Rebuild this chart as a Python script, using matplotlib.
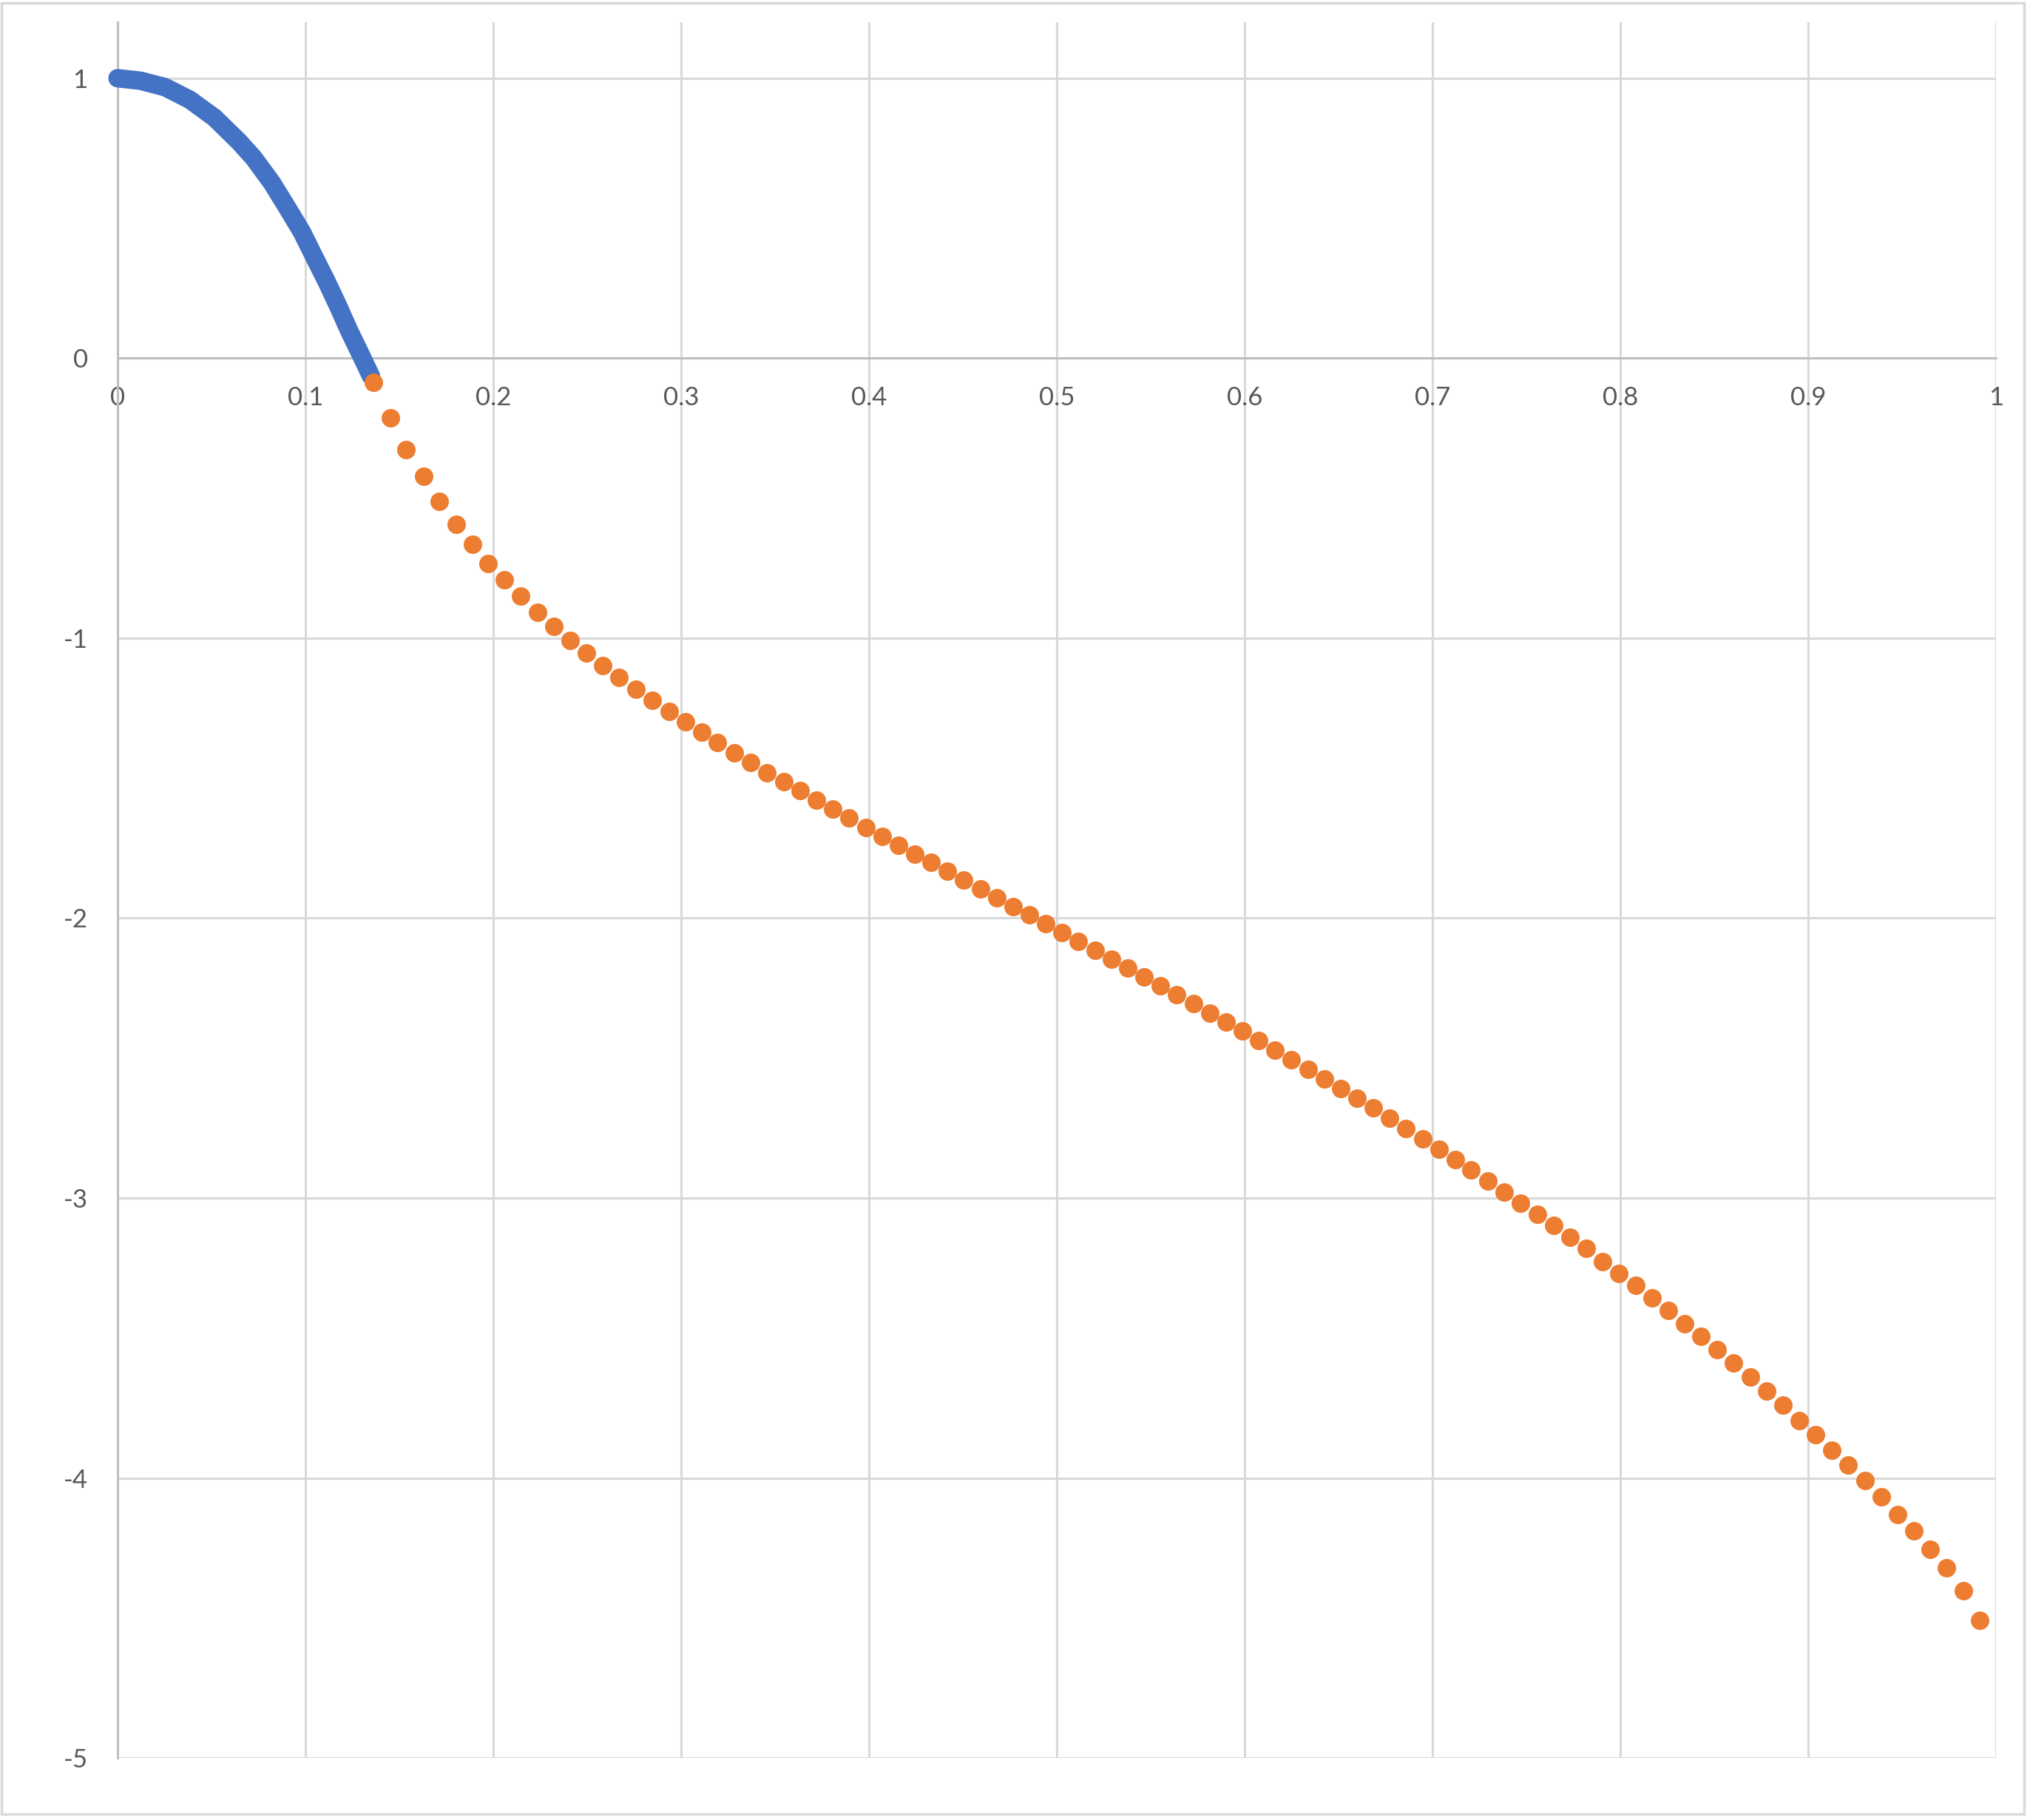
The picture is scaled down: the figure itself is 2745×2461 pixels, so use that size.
import matplotlib.pyplot as plt
from matplotlib.patches import Rectangle

plt.rcParams['font.family'] = ['Lato', 'DejaVu Sans']
plt.rcParams['axes.unicode_minus'] = False

# blue series (dense, reads as a thick curve)
blue_x = [0.0, 0.0122, 0.0253, 0.0385, 0.0516, 0.0647, 0.0726, 0.0822,
          0.0903, 0.0982, 0.1047, 0.1113, 0.1174, 0.1233, 0.1296, 0.1349]
blue_y = [1.0, 0.991, 0.968, 0.923, 0.859, 0.773, 0.714, 0.626,
          0.538, 0.450, 0.362, 0.274, 0.187, 0.098, 0.011, -0.064]

# orange series
orange_x = [0.1362, 0.1452, 0.1537, 0.1629, 0.1714, 0.1802, 0.1889, 0.1974, 0.2060,
            0.2147, 0.2237, 0.2324, 0.2411, 0.2497, 0.2584, 0.2671, 0.2759, 0.2848,
            0.2937, 0.3022, 0.3109, 0.3194, 0.3282, 0.3371, 0.3458, 0.3546, 0.3633,
            0.3719, 0.3806, 0.3893, 0.3983, 0.4070, 0.4156, 0.4243, 0.4330, 0.4416,
            0.4505, 0.4593, 0.4680, 0.4767, 0.4853, 0.4940, 0.5026, 0.5113, 0.5204,
            0.5290, 0.5377, 0.5463, 0.5550, 0.5637, 0.5727, 0.5815, 0.5900, 0.5987,
            0.6077, 0.6160, 0.6248, 0.6337, 0.6424, 0.6511, 0.6597, 0.6684, 0.6771,
            0.6857, 0.6948, 0.7034, 0.7121, 0.7207, 0.7294, 0.7381, 0.7467, 0.7558,
            0.7645, 0.7731, 0.7818,
            0.7906, 0.7993, 0.8082, 0.8169, 0.8257, 0.8344, 0.8430, 0.8517, 0.8603,
            0.8693, 0.8780, 0.8866, 0.8953, 0.9040, 0.9126, 0.9213, 0.9304, 0.9391,
            0.9477, 0.9564, 0.9650, 0.9737, 0.9827, 0.9913]
orange_y = [-0.086, -0.213, -0.326, -0.423, -0.513, -0.593, -0.664, -0.733, -0.793,
            -0.851, -0.907, -0.959, -1.007, -1.054, -1.099, -1.140, -1.183, -1.221,
            -1.263, -1.300, -1.336, -1.373, -1.411, -1.445, -1.480, -1.514, -1.545,
            -1.580, -1.611, -1.643, -1.677, -1.709, -1.741, -1.772, -1.801, -1.833,
            -1.865, -1.895, -1.928, -1.960, -1.989, -2.020, -2.052, -2.084, -2.115,
            -2.147, -2.179, -2.210, -2.242, -2.274, -2.305, -2.340, -2.371, -2.403,
            -2.437, -2.472, -2.506, -2.540, -2.574, -2.609, -2.643, -2.677, -2.714,
            -2.751, -2.788, -2.825, -2.862, -2.899, -2.939, -2.978, -3.018, -3.057,
            -3.097, -3.139, -3.181,
            -3.226, -3.269, -3.312, -3.356, -3.402, -3.449, -3.494, -3.541, -3.590,
            -3.640, -3.690, -3.740, -3.794, -3.846, -3.900, -3.954, -4.010, -4.068,
            -4.130, -4.190, -4.254, -4.322, -4.402, -4.509]

x_ticks = [0, 0.1, 0.2, 0.3, 0.4, 0.5, 0.6, 0.7, 0.8, 0.9, 1.0]
x_labels = ['0', '0.1', '0.2', '0.3', '0.4', '0.5', '0.6', '0.7', '0.8', '0.9', '1']
y_ticks = [-5, -4, -3, -2, -1, 0, 1]
y_labels = ['-5', '-4', '-3', '-2', '-1', '0', '1']

fig = plt.figure(figsize=(27.45, 24.61), dpi=100)
ax = fig.add_axes([0.0579, 0.0341, 0.9253, 0.9537])

ax.plot(blue_x, blue_y, color='#4472C4', linewidth=18, solid_capstyle='round',
        solid_joinstyle='round', zorder=3, clip_on=False)
ax.plot(orange_x, orange_y, 'o', color='#ED7D31', markersize=18, markeredgewidth=0,
        zorder=4, clip_on=False)

ax.set_xlim(0, 1)
ax.set_ylim(-5, 1.2)
ax.set_xticks(x_ticks, x_labels)
ax.set_yticks(y_ticks, y_labels)

ax.grid(True, color='#D9D9D9', linewidth=2.2)
ax.set_axisbelow(True)
for side in ['top', 'right']:
    ax.spines[side].set_visible(False)
ax.spines['bottom'].set_position(('data', 0))
for side in ['bottom', 'left']:
    ax.spines[side].set_color('#BFBFBF')
    ax.spines[side].set_linewidth(2.2)

ax.tick_params(length=0, labelsize=25, labelcolor='#595959')
ax.tick_params(axis='x', pad=27)
ax.tick_params(axis='y', pad=29)

# chart area border
fig.patches.append(Rectangle((0.0007, 0.0033), 0.9964, 0.9951, transform=fig.transFigure,
                             fill=False, edgecolor='#D9D9D9', linewidth=2.5))

fig.savefig('out.png', dpi=100)
plt.close(fig)
